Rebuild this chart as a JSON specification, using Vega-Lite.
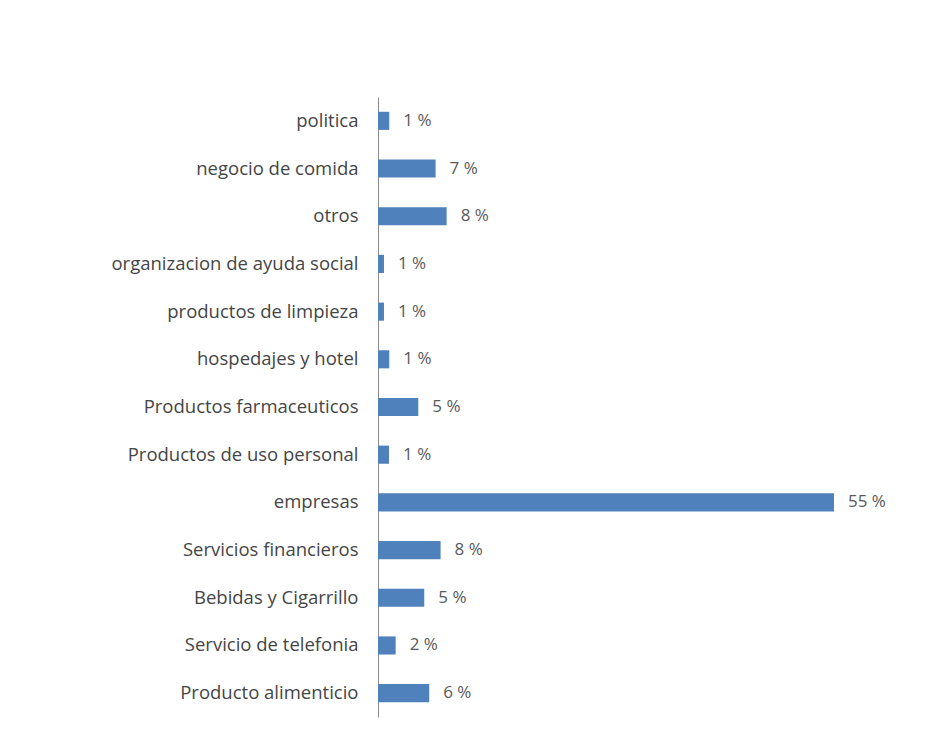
{
  "$schema": "https://vega.github.io/schema/vega-lite/v6.json",
  "autosize": "none",
  "width": 456,
  "height": 620,
  "padding": {"left": 378, "top": 97, "right": 103, "bottom": 27},
  "background": "white",
  "config": {"view": {"stroke": null}, "font": "Open Sans"},
  "data": {
    "values": [
      {"categoria": "politica", "valor": 1.36, "etiqueta": "1 %"},
      {"categoria": "negocio de comida", "valor": 6.95, "etiqueta": "7 %"},
      {"categoria": "otros", "valor": 8.28, "etiqueta": "8 %"},
      {"categoria": "organizacion de ayuda social", "valor": 0.72, "etiqueta": "1 %"},
      {"categoria": "productos de limpieza", "valor": 0.72, "etiqueta": "1 %"},
      {"categoria": "hospedajes y hotel", "valor": 1.36, "etiqueta": "1 %"},
      {"categoria": "Productos farmaceuticos", "valor": 4.86, "etiqueta": "5 %"},
      {"categoria": "Productos de uso personal", "valor": 1.33, "etiqueta": "1 %"},
      {"categoria": "empresas", "valor": 55.0, "etiqueta": "55 %"},
      {"categoria": "Servicios financieros", "valor": 7.55, "etiqueta": "8 %"},
      {"categoria": "Bebidas y Cigarrillo", "valor": 5.58, "etiqueta": "5 %"},
      {"categoria": "Servicio de telefonia", "valor": 2.13, "etiqueta": "2 %"},
      {"categoria": "Producto alimenticio", "valor": 6.18, "etiqueta": "6 %"}
    ]
  },
  "encoding": {
    "y": {
      "field": "categoria",
      "type": "nominal",
      "sort": null,
      "scale": {"paddingInner": 0.62, "paddingOuter": 0.31},
      "axis": {
        "title": null,
        "ticks": false,
        "domainColor": "#8c8c8c",
        "domainWidth": 1,
        "labelFontSize": 18.5,
        "labelColor": "#454545",
        "labelPadding": 20,
        "labelLimit": 400,
        "grid": false
      }
    },
    "x": {
      "field": "valor",
      "type": "quantitative",
      "scale": {"domain": [0, 55], "nice": false},
      "axis": null
    }
  },
  "layer": [
    {"mark": {"type": "bar", "color": "#4F81BD"}},
    {
      "mark": {"type": "text", "align": "left", "baseline": "middle", "dx": 14, "fontSize": 17, "color": "#595959"},
      "encoding": {"text": {"field": "etiqueta"}}
    }
  ]
}
